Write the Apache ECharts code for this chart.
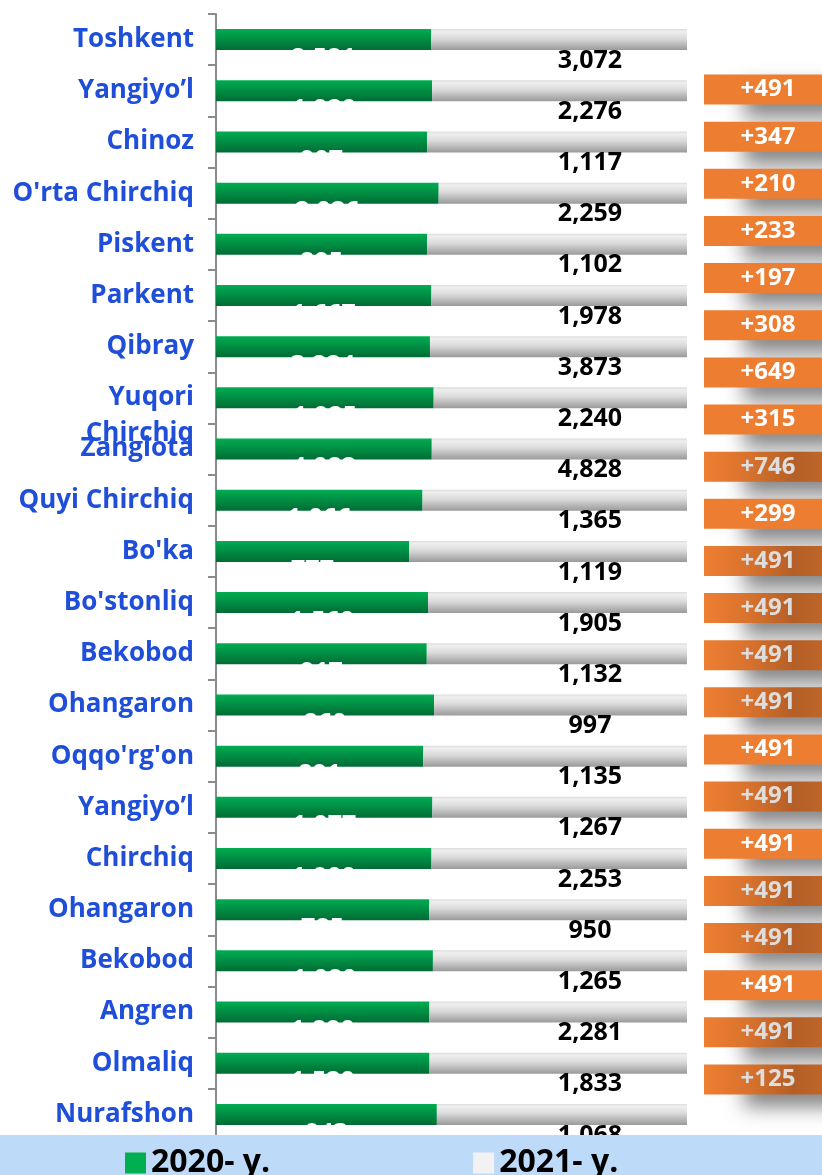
<!DOCTYPE html>
<html>
<head>
<meta charset="utf-8">
<title>2020 - 2021</title>
<script src="https://cdn.jsdelivr.net/npm/echarts@6/dist/echarts.min.js"></script>
<style>
    html, body {margin: 0; padding: 0; background: #fff;}
    #main {width: 822px; height: 1175px;}
</style>
</head>
<body>
<div id="main"></div>
<script>
// tumanlar
var categories = ['Toshkent', 'Yangiyo’l', 'Chinoz', "O'rta Chirchiq", 'Piskent', 'Parkent', 'Qibray',
    'Yuqori Chirchiq', 'Zangiota', 'Quyi Chirchiq', "Bo'ka", "Bo'stonliq", 'Bekobod', 'Ohangaron',
    "Oqqo'rg'on", 'Yangiyo’l', 'Chirchiq', 'Ohangaron', 'Bekobod', 'Angren', 'Olmaliq', 'Nurafshon'];
var values2020 = [2581, 1929, 907, 2026, 895, 1667, 3224, 1925, 4082, 1066, 777,
    1560, 917, 860, 891, 1077, 1900, 785, 1080, 1890, 1520, 943];
var values2021 = [3072, 2276, 1117, 2259, 1102, 1978, 3873, 2240, 4828, 1365, 1119,
    1905, 1132, 997, 1135, 1267, 2253, 950, 1265, 2281, 1833, 1068];
var badges = ['+491', '+347', '+210', '+233', '+197', '+308', '+649', '+315', '+746', '+299', '+491',
    '+491', '+491', '+491', '+491', '+491', '+491', '+491', '+491', '+491', '+491', '+125'];
var seriesNames = ['2020- y.', '2021- y.'];

// style
var shaded = [8, 10, 11, 12, 13, 15, 17, 18, 20, 21];
var font = '"Open Sans", sans-serif';

function fmt(n) {
    return n.toLocaleString('en-US');
}

function init() {
    load();
}

function load() {
    var myChart = echarts.init(document.getElementById('main'));

    // 100% stacked shares
    var share2020 = [], share2021 = [];
    for (var i = 0; i < categories.length; i++) {
        var total = values2020[i] + values2021[i];
        share2020.push(values2020[i] / total * 100);
        share2021.push(values2021[i] / total * 100);
    }

    var badgeData = [];
    for (var b = 0; b < badges.length; b++) {
        var dark = shaded.indexOf(b) >= 0;
        badgeData.push({
            value: 1,
            name: badges[b],
            itemStyle: {
                color: dark ? new echarts.graphic.LinearGradient(0, 0, 1, 0, [
                    {offset: 0, color: '#ee7f32'},
                    {offset: 0.35, color: '#d8722d'},
                    {offset: 0.7, color: '#b45f27'},
                    {offset: 1, color: '#c2672a'}
                ]) : '#ed7d31'
            },
            label: {color: dark ? '#dedede' : '#ffffff'}
        });
    }

    myChart.setOption({
        animation: false,
        textStyle: {fontFamily: font},
        grid: [
            {left: 216, top: 14, width: 471, height: 1126, outerBoundsMode: 'none'},
            {left: 704, top: 66, width: 128, height: 1037, outerBoundsMode: 'none'}
        ],
        legend: {
            data: [
                {name: seriesNames[0], itemStyle: {color: '#00b050'}},
                {name: seriesNames[1], itemStyle: {color: '#f2f2f2'}}
            ],
            left: 125,
            top: 1147,
            padding: 0,
            icon: 'rect',
            itemWidth: 21,
            itemHeight: 21,
            itemGap: 203,
            itemTextGap: 16,
            z: 20,
            textStyle: {fontSize: 32, fontWeight: 'bold', color: '#000', fontFamily: font}
        },
        graphic: [{
            type: 'rect',
            left: 0,
            bottom: 0,
            z: 10,
            shape: {width: 822, height: 40},
            style: {fill: '#bddaf8'}
        }],
        xAxis: [
            {type: 'value', gridIndex: 0, min: 0, max: 100, show: false},
            {type: 'value', gridIndex: 1, min: 0, max: 1, show: false}
        ],
        yAxis: [
            {
                type: 'category',
                gridIndex: 0,
                inverse: true,
                data: categories,
                axisLine: {show: true, lineStyle: {color: '#8c8c8c', width: 2}},
                axisTick: {show: true, length: 8, lineStyle: {color: '#8c8c8c', width: 2}},
                splitLine: {show: false},
                axisLabel: {
                    interval: 0,
                    margin: 22,
                    color: '#1f4ed8',
                    fontSize: 26,
                    fontWeight: 'bold',
                    fontFamily: font,
                    lineHeight: 36,
                    formatter: function (v) {
                        return v === 'Yuqori Chirchiq' ? '\nYuqori\nChirchiq' : v;
                    }
                }
            },
            {
                type: 'category',
                gridIndex: 1,
                inverse: true,
                data: badges,
                show: false
            }
        ],
        series: [
            {
                name: seriesNames[0],
                type: 'bar',
                stack: 'total',
                barWidth: 21,
                data: share2020,
                itemStyle: {
                    color: new echarts.graphic.LinearGradient(0, 0, 0, 1, [
                        {offset: 0, color: '#00ad52'},
                        {offset: 1, color: '#006c34'}
                    ])
                },
                label: {
                    show: true,
                    position: 'inside',
                    offset: [0, 19],
                    color: '#ffffff',
                    fontSize: 25,
                    fontWeight: 'bold',
                    fontFamily: font,
                    formatter: function (p) {
                        return fmt(values2020[p.dataIndex]);
                    }
                }
            },
            {
                name: seriesNames[1],
                type: 'bar',
                stack: 'total',
                barWidth: 21,
                data: share2021,
                itemStyle: {
                    color: new echarts.graphic.LinearGradient(0, 0, 0, 1, [
                        {offset: 0, color: '#dcdcdc'},
                        {offset: 0.12, color: '#efefef'},
                        {offset: 0.45, color: '#dadada'},
                        {offset: 1, color: '#9a9a9a'}
                    ])
                },
                label: {
                    show: true,
                    position: 'insideRight',
                    distance: 97,
                    align: 'center',
                    offset: [0, 21],
                    color: '#000000',
                    fontSize: 25,
                    fontWeight: 'bold',
                    fontFamily: font,
                    formatter: function (p) {
                        return fmt(values2021[p.dataIndex]);
                    }
                }
            },
            {
                name: 'badge',
                type: 'bar',
                xAxisIndex: 1,
                yAxisIndex: 1,
                barWidth: 30,
                data: badgeData,
                itemStyle: {
                    shadowColor: 'rgba(0, 0, 0, 0.5)',
                    shadowBlur: 20,
                    shadowOffsetX: 40,
                    shadowOffsetY: 12
                },
                label: {
                    show: true,
                    position: 'insideLeft',
                    distance: 64,
                    align: 'center',
                    fontSize: 24,
                    fontWeight: 'bold',
                    fontFamily: font,
                    formatter: function (p) {
                        return badges[p.dataIndex];
                    }
                }
            }
        ]
    });
}

init();
</script>
</body>
</html>
